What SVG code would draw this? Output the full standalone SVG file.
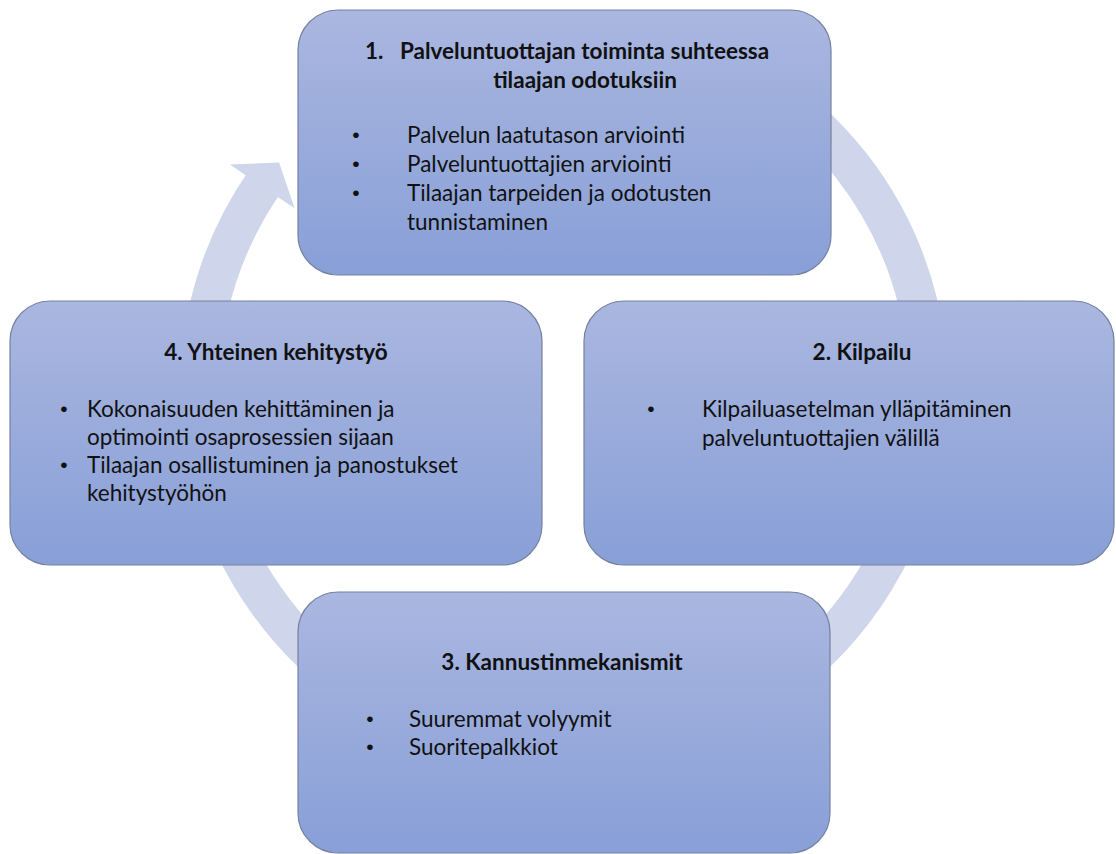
<svg xmlns="http://www.w3.org/2000/svg" width="1116" height="854" viewBox="0 0 1116 854">
  <defs>
    <linearGradient id="boxFill" x1="0" y1="0" x2="0" y2="1">
      <stop offset="0" stop-color="#aab7e0"/>
      <stop offset="1" stop-color="#889fd7"/>
    </linearGradient>
    <style>
      .box { fill: url(#boxFill); stroke: #75819f; stroke-width: 1.2; }
      .ring { fill: none; stroke: #cfd5ea; stroke-width: 39; }
      .head { fill: #cfd5ea; }
      text { font-family: Lato, "Liberation Sans", sans-serif; font-size: 22.5px; fill: #111111; }
      .title { font-weight: bold; }
      .mid { text-anchor: middle; }
      .dot { font-family: "Liberation Sans", Arial, sans-serif; font-size: 21px; text-anchor: middle; }
    </style>
  </defs>
  <rect width="1116" height="854" fill="#ffffff"/>

  <!-- circular cycle arrow behind the boxes -->
  <g id="connectors">
    <path class="ring" d="M 746.3 74.3 A 364.5 364.5 0 1 1 265.4 180.9"/>
    <polygon class="head" points="229.9,164.6 279.1,162.6 294.6,208.3"/>
  </g>

  <g id="node1">
    <rect class="box" x="298" y="10" width="533" height="265" rx="40" ry="40"/>
    <text class="title" x="365" y="59">1.</text>
    <text class="title" x="400" y="59">Palveluntuottajan toiminta suhteessa</text>
    <text class="title mid" x="585" y="88">tilaajan odotuksiin</text>
    <text class="dot" x="356" y="142">•</text>
    <text x="407" y="143">Palvelun laatutason arviointi</text>
    <text class="dot" x="356" y="171">•</text>
    <text x="407" y="172">Palveluntuottajien arviointi</text>
    <text class="dot" x="356" y="200">•</text>
    <text x="407" y="201">Tilaajan tarpeiden ja odotusten</text>
    <text x="407" y="230">tunnistaminen</text>
  </g>

  <g id="node2">
    <rect class="box" x="584" y="301" width="530" height="264" rx="40" ry="40"/>
    <text class="title mid" x="862" y="360">2. Kilpailu</text>
    <text class="dot" x="651" y="416">•</text>
    <text x="702" y="417">Kilpailuasetelman ylläpitäminen</text>
    <text x="702" y="446">palveluntuottajien välillä</text>
  </g>

  <g id="node3">
    <rect class="box" x="298" y="592" width="532" height="261" rx="40" ry="40"/>
    <text class="title mid" x="562" y="670">3. Kannustinmekanismit</text>
    <text class="dot" x="370" y="726">•</text>
    <text x="409" y="727">Suuremmat volyymit</text>
    <text class="dot" x="370" y="754">•</text>
    <text x="409" y="755">Suoritepalkkiot</text>
  </g>

  <g id="node4">
    <rect class="box" x="10" y="301" width="532" height="264" rx="40" ry="40"/>
    <text class="title mid" x="276" y="360">4. Yhteinen kehitystyö</text>
    <text class="dot" x="64" y="416">•</text>
    <text x="87" y="417">Kokonaisuuden kehittäminen ja</text>
    <text x="87" y="445">optimointi osaprosessien sijaan</text>
    <text class="dot" x="64" y="472">•</text>
    <text x="87" y="473">Tilaajan osallistuminen ja panostukset</text>
    <text x="87" y="501">kehitystyöhön</text>
  </g>
</svg>
